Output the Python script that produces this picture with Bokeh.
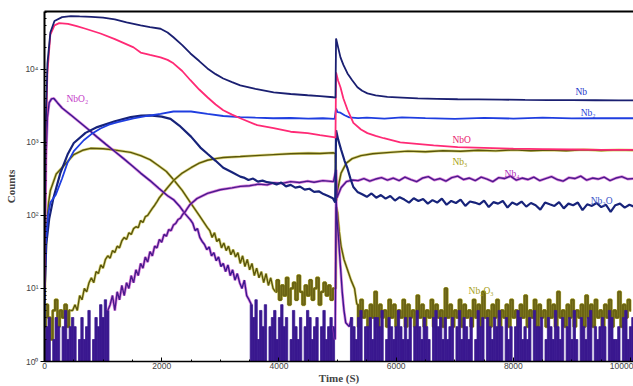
from bokeh.plotting import figure
from bokeh.models import Range1d, FixedTicker, LinearAxis, Label
from bokeh.embed import file_html
from bokeh.resources import INLINE

# ---------------- data ----------------
x_ticks = [0, 2000, 4000, 6000, 8000, 10000]
x_minor = [500, 1000, 1500, 2500, 3000, 3500, 4500, 5000, 5500,
           6500, 7000, 7500, 8500, 9000, 9500]
y_ticks = [1, 10, 100, 1000, 10000]
y_tick_labels = ["10⁰", "10¹", "10²", "10³", "10⁴"]

# Nb
t_nb = [0, 20, 50, 100, 170, 300, 450, 600, 800, 1000, 1200, 1400, 1640, 1800,
        1980, 2100, 2200, 2350, 2490, 2640, 2780, 2920, 3050, 3200, 3340, 3600,
        3910, 4200, 4490, 4700, 4930, 4965, 4975, 5010, 5050, 5100, 5170, 5250,
        5340, 5420, 5510, 5650, 5850, 6100, 6370, 6700, 7050, 7400, 7800, 8200,
        8600, 9000, 9400, 9800, 10050]
v_nb = [30, 1500, 12000, 32000, 46000, 52000, 53500, 53000, 52500, 51000, 48500,
        44000, 40000, 38000, 36000, 32000, 27500, 21500, 16500, 13000, 10300, 8600,
        7500, 6700, 6050, 5400, 4850, 4600, 4420, 4300, 4150, 4100, 26500, 20000,
        14600, 11500, 8800, 7100, 5700, 5100, 4700, 4400, 4200, 4100, 4000, 3950,
        3900, 3880, 3850, 3820, 3800, 3790, 3780, 3770, 3770]

# NbO
t_nbo = [0, 20, 50, 100, 170, 250, 400, 550, 700, 955, 1200, 1520, 1640, 1800,
         1980, 2100, 2200, 2350, 2490, 2640, 2780, 2920, 3050, 3200, 3340, 3630,
         3910, 4200, 4490, 4700, 4930, 4965, 4975, 5010, 5050, 5100, 5170, 5270,
         5400, 5510, 5650, 5790, 6070, 6400, 6640, 7050, 7500, 8000, 8500, 9000,
         9500, 10050]
v_nbo = [10, 1000, 9000, 30000, 40000, 43000, 42000, 39000, 36000, 31000, 26000,
         20000, 17000, 15800, 14600, 13500, 12100, 9500, 7100, 5300, 4150, 3300,
         2760, 2400, 2140, 1720, 1570, 1400, 1340, 1260, 1180, 1160, 9100, 7000,
         5700, 4000, 2800, 1850, 1500, 1340, 1230, 1140, 1000, 950, 910, 860, 840,
         820, 810, 800, 790, 790]

# Nb2
t_nb2 = [0, 20, 60, 100, 190, 300, 390, 500, 670, 800, 955, 1100, 1250, 1520,
         1750, 1980, 2200, 2500, 2780, 3050, 3340, 3600, 3900, 4200, 4500, 4750,
         4950, 4975, 5000, 5050, 5120, 5200, 5350, 5500, 5800, 6100, 6500, 7000,
         7500, 8000, 8500, 9000, 9500, 10050]
v_nb2 = [3, 40, 100, 150, 190, 320, 520, 760, 1070, 1300, 1550, 1750, 1900, 2140,
         2300, 2450, 2650, 2650, 2450, 2300, 2220, 2180, 2140, 2160, 2120, 2140,
         2100, 2900, 2600, 2550, 2350, 2200, 2150, 2180, 2120, 2200, 2150, 2100,
         2170, 2120, 2180, 2130, 2150, 2140]

# Nb2O
t_nb2o_head = [0, 30, 80, 150, 270, 400, 500, 700, 900, 1200, 1470, 1650, 1800,
               2000, 2150, 2300, 2500, 2660, 2780, 2920, 3050, 3200, 3340]
v_nb2o_head = [8, 40, 90, 170, 380, 700, 980, 1350, 1620, 1950, 2220, 2330, 2350,
               2250, 2100, 1700, 1200, 850, 700, 560, 450, 390, 340]
nb2o_pre = [330, 305, 320, 290, 300, 285, 280, 265, 282, 250, 262, 240, 248, 226,
            232, 210, 214, 196, 184, 172]                      # from 3400 s, every 80 s
t_nb2o_spike = [4960, 4975, 5010, 5060, 5120, 5170, 5220, 5270, 5340]
v_nb2o_spike = [150, 1470, 1100, 800, 560, 440, 320, 245, 210]
nb2o_tail = [195, 180, 200, 175, 190, 170, 185, 160, 178, 165,
             150, 172, 158, 168, 145, 162, 150, 170, 140, 158,
             148, 165, 135, 155, 150, 142, 160, 130, 152, 145,
             158, 128, 150, 140, 155, 132, 148, 138, 120, 150,
             142, 135, 152, 125, 145, 138, 150, 118, 142, 135,
             148, 130, 140, 112, 138, 145, 128, 140, 132]      # from 5420 s, every 80 s

# Nb3
nb3_early = [3, 6, 4, 2, 5, 7, 3, 5, 4, 6, 3, 5]                # from 0 s, every 40 s
nb3_rise = [5, 6, 5, 8, 7, 10, 9, 12, 14, 12, 17, 16, 21, 19, 25, 28, 26, 33, 31,
            38, 36, 45, 50, 47, 58, 55, 66, 70, 68, 85, 80, 96, 100, 112, 125, 138,
            155, 175]                                          # from 480 s, every 40 s
t_nb3_mid = [2080, 2200, 2350, 2500, 2640, 2780, 2920, 3050, 3340, 3600, 3910,
             4200, 4500, 4700, 4930, 4965, 4980, 5000, 5060, 5150, 5250, 5400,
             5600, 5900, 6200, 6500, 6800, 7100, 7400, 7700, 8000, 8300, 8600,
             8900, 9200, 9500, 9800, 10050]
v_nb3_mid = [230, 300, 380, 450, 520, 570, 600, 620, 640, 660, 680, 700, 710, 705,
             720, 700, 160, 220, 380, 520, 600, 660, 700, 730, 760, 745, 770, 755,
             780, 765, 790, 770, 785, 770, 795, 775, 790, 780]

# Nb2O3
t_nb2o3_head = [0, 20, 40, 70, 100, 200, 330, 500, 650, 785, 1000, 1180, 1470,
                1640, 1800, 1930, 2080, 2200, 2350, 2490, 2640, 2780]
v_nb2o3_head = [5, 30, 80, 150, 220, 370, 480, 680, 780, 830, 820, 790, 730, 660,
                580, 490, 400, 310, 220, 150, 100, 68]
nb2o3_decl = [62, 50, 58, 44, 48, 36, 42, 33, 38, 29, 34, 27, 31, 22, 28, 20, 25,
              18, 22, 15, 19, 14, 17, 12, 16, 11, 14, 10]       # from 2820 s, every 40 s
nb2o3_pre = [9, 13, 7, 11, 8, 14, 6, 10, 12, 7, 15, 9, 6, 11, 8, 13, 7, 10, 14, 6,
             9, 12, 8, 11, 7, 10]                              # from 3940 s, every 40 s
t_nb2o3_spike = [4970, 4980, 5000, 5030, 5060, 5110, 5170, 5230, 5290]
v_nb2o3_spike = [10, 130, 110, 60, 38, 25, 18, 13, 10]
nb2o3_tail = [6, 3, 7, 4, 5, 3, 6, 4, 9, 3, 6, 4, 5, 3, 7, 4, 6, 3, 5, 4,
              7, 3, 6, 4, 5, 3, 8, 4, 6, 3, 5, 4, 7, 3, 6, 4, 5, 3, 10, 4,
              6, 3, 5, 4, 7, 3, 6, 4, 5, 3, 7, 4, 6, 3, 9, 4, 5, 3, 6, 4,
              7, 3, 5, 4, 6, 3, 7, 4, 5, 3, 6, 4, 8, 3, 5, 4, 7, 3, 6, 4,
              5, 3, 7, 4, 6, 3, 9, 4, 5, 3, 6, 4, 7, 3, 5, 4, 6, 3, 8, 4,
              6, 3, 7, 4, 5, 3, 6, 4, 7, 3, 5, 4, 9, 3, 6, 4, 7, 5]  # from 5330 s, every 40 s

# NbO2
t_nbo2_head = [0, 25, 50, 80, 120, 160, 220, 300, 450, 600, 750, 900, 1050, 1200,
               1350, 1500, 1640, 1800, 1950, 2100, 2200, 2300, 2400, 2490]
v_nbo2_head = [10, 600, 2200, 3500, 3950, 4000, 3500, 2960, 2370, 1890, 1500, 1180,
               940, 750, 600, 475, 380, 300, 235, 186, 165, 135, 105, 87]
nbo2_decl = [78, 62, 66, 50, 44, 40, 34, 37, 28, 31, 24, 27, 20, 22, 17, 21, 15,
             18, 13, 16, 12, 10, 13, 8, 7]                      # from 2530 s, every 40 s
nbo2_pre = [6, 4, 7, 2, 5, 3, 6, 1, 3, 4, 5, 2, 4, 6, 3, 4, 1, 2, 5, 3,
            2, 4, 1, 3, 5, 4, 2, 3, 4, 1, 3, 5, 2, 3, 4, 3]    # from 3530 s, every 40 s
t_nbo2_spike = [4960, 4975, 4990, 5020, 5050, 5080, 5110, 5140, 5200]
v_nbo2_spike = [2, 180, 90, 45, 20, 9, 5, 3.4, 3]
nbo2_tail = [4, 3, 2, 4, 5, 1, 3, 3, 4, 2, 4, 4, 3, 5, 1, 2, 4, 3, 2, 3,
             5, 3, 2, 4, 2, 4, 1, 3, 5, 3, 2, 4, 3, 2, 1, 4, 5, 3, 4, 2,
             4, 2, 3, 4, 1, 3, 5, 2, 4, 3, 2, 4, 1, 2, 5, 3, 4, 1, 4, 3,
             2, 4, 3, 5, 3, 1, 4, 2, 3, 1, 3, 5, 4, 2, 3, 2, 4, 1, 5, 3,
             3, 4, 1, 2, 4, 3, 2, 5, 3, 2, 4, 1, 3, 4, 2, 5, 2, 1, 4, 3,
             2, 4, 5, 1, 3, 2, 3, 4, 3, 1, 5, 4, 2, 2, 3, 1, 4, 5, 2, 3, 4]  # from 5240 s, every 40 s

# Nb4
nb4_early = [2, 3, 4, 1, 2, 4, 3, 1, 3, 5, 2, 3, 4, 3, 1, 2, 4, 2, 3, 5, 1, 2, 4,
             3, 6, 4, 7, 5]                                    # from 0 s, every 40 s
nb4_rise = [6, 8, 5, 9, 7, 11, 8, 12, 10, 15, 12, 18, 15, 22, 19, 27, 23, 32, 28,
            38, 36, 47, 43, 55, 52, 64, 62, 74, 78, 88, 92, 104, 112, 126, 140]  # from 1120 s
t_nb4_mid = [2600, 2780, 3000, 3200, 3340, 3500, 3650, 3800, 3910, 4050, 4200,
             4350, 4490, 4600, 4750, 4930, 4975, 4990, 5060, 5150, 5250]
v_nb4_mid = [170, 200, 225, 238, 250, 255, 268, 262, 280, 275, 290, 282, 295, 285,
             300, 290, 420, 175, 240, 290, 305]
nb4_tail = [300, 320, 295, 315, 330, 305, 325, 300, 335, 310, 290, 325, 340, 305,
            320, 295, 330, 345, 310, 325, 300, 335, 315, 290, 330, 320, 345, 305,
            325, 310, 335, 300, 320, 340, 310, 295, 330, 320, 345, 305, 325, 315,
            335, 300, 325, 340, 315, 320]                      # from 5350 s, every 100 s

# series labels
label_names = ["Nb", "Nb₂", "NbO", "Nb₃", "Nb₄", "Nb₂O", "NbO₂", "Nb₂O₃"]
label_t = [9060, 9150, 6960, 6960, 7850, 9320, 375, 7235]
label_v = [4850, 2500, 1070, 540, 370, 158, 3900, 9.2]
label_colors = ["#2336c8", "#2a44d8", "#e8206e", "#a8a010", "#b02cb8", "#3a54c8",
                "#c43cc8", "#a8a018"]


def grid(start, step, vals):
    return [start + step * i for i in range(len(vals))]


# ---------------- figure ----------------
p = figure(width=633, height=386, x_range=Range1d(0, 10050), y_range=Range1d(1, 62000),
           y_axis_type="log", output_backend="svg", toolbar_location=None,
           min_border_left=44, min_border_right=0, min_border_top=11, min_border_bottom=24,
           background_fill_color="white", border_fill_color="white")
p.grid.visible = False
p.outline_line_color = None

OLIVE, OLIVE_HALO, OLIVE_NOISE = "#5a560c", "#c9c23a", "#6b6414"
PURPLE, PURPLE_HALO = "#3a188f", "#c83cc8"


def seg_line(T, V, c, halo):
    p.line(T, V, line_color=halo, line_width=2.8, line_alpha=0.65)
    p.line(T, V, line_color=c, line_width=1.4)


def olive_noise(T, V):
    p.step(T, V, mode="center", line_color=OLIVE_HALO, line_width=3.0, line_alpha=0.8)
    p.step(T, V, mode="center", line_color=OLIVE_NOISE, line_width=2.2)


def purple_noise(T, V, step):
    p.vbar(x=T, width=step, bottom=1, top=V, fill_color=PURPLE,
           line_color=PURPLE, line_width=0.8)


# Nb2O3 (olive)
t_pre3 = grid(3940, 40, nb2o3_pre)
t_tail3 = grid(5330, 40, nb2o3_tail)
seg_line(t_nb2o3_head + grid(2820, 40, nb2o3_decl) + t_pre3[:1],
         v_nb2o3_head + nb2o3_decl + nb2o3_pre[:1], OLIVE, OLIVE_HALO)
olive_noise(t_pre3, nb2o3_pre)
seg_line(t_pre3[-1:] + t_nb2o3_spike + t_tail3[:1],
         nb2o3_pre[-1:] + v_nb2o3_spike + nb2o3_tail[:1], OLIVE, OLIVE_HALO)
olive_noise(t_tail3, nb2o3_tail)

# Nb3 (olive)
t_e3 = grid(0, 40, nb3_early)
olive_noise(t_e3, nb3_early)
seg_line(t_e3[-1:] + grid(480, 40, nb3_rise) + t_nb3_mid,
         nb3_early[-1:] + nb3_rise + v_nb3_mid, OLIVE, OLIVE_HALO)

# NbO2 (purple)
t_pre2 = grid(3530, 40, nbo2_pre)
t_tail2 = grid(5240, 40, nbo2_tail)
seg_line(t_nbo2_head + grid(2530, 40, nbo2_decl) + t_pre2[:1],
         v_nbo2_head + nbo2_decl + nbo2_pre[:1], PURPLE, PURPLE_HALO)
purple_noise(t_pre2, nbo2_pre, 40)
seg_line(t_pre2[-1:] + t_nbo2_spike + t_tail2[:1],
         nbo2_pre[-1:] + v_nbo2_spike + nbo2_tail[:1], PURPLE, PURPLE_HALO)
purple_noise(t_tail2, nbo2_tail, 40)

# Nb4 (purple)
t_e4 = grid(0, 40, nb4_early)
purple_noise(t_e4, nb4_early, 40)
seg_line(t_e4[-1:] + grid(1120, 40, nb4_rise) + t_nb4_mid + grid(5350, 100, nb4_tail),
         nb4_early[-1:] + nb4_rise + v_nb4_mid + nb4_tail, "#4a1a8c", PURPLE_HALO)

# blue / pink series
p.line(t_nb2o_head + grid(3400, 80, nb2o_pre) + t_nb2o_spike + grid(5420, 80, nb2o_tail),
       v_nb2o_head + nb2o_pre + v_nb2o_spike + nb2o_tail,
       line_color="#17237a", line_width=2.2)
p.line(t_nb2, v_nb2, line_color="#1f3ee0", line_width=1.8)
p.line(t_nbo, v_nbo, line_color="#ff2a75", line_width=1.8)
p.line(t_nb, v_nb, line_color="#1a1f71", line_width=1.8)

for name, tx, vy, c in zip(label_names, label_t, label_v, label_colors):
    p.add_layout(Label(x=tx, y=vy, text=name, text_color=c, text_font="Liberation Serif",
                       text_font_size="9.5px", text_baseline="middle", text_align="left"))

# axes
xa = p.xaxis[0]
xa.ticker = FixedTicker(ticks=x_ticks, minor_ticks=x_minor)
xa.axis_line_width = 1.5
xa.major_tick_in = 4
xa.major_tick_out = 0
xa.minor_tick_in = 2
xa.minor_tick_out = 0
xa.major_label_text_font = "Liberation Sans"
xa.major_label_text_font_size = "8.5px"
xa.major_label_standoff = 1
xa.axis_label = "Time (S)"
xa.axis_label_text_font = "Liberation Serif"
xa.axis_label_text_font_style = "bold"
xa.axis_label_text_font_size = "11px"
xa.axis_label_standoff = 0

ya = p.yaxis[0]
y_minor = [m * 10 ** k for k in range(5) for m in range(2, 10) if m * 10 ** k < 62000]
ya.ticker = FixedTicker(ticks=y_ticks, minor_ticks=y_minor)
ya.major_label_overrides = {t: s for t, s in zip(y_ticks, y_tick_labels)}
ya.axis_line_width = 2
ya.major_tick_in = 2
ya.major_tick_out = 4
ya.minor_tick_in = 2
ya.minor_tick_out = 0
ya.major_label_text_font = "Liberation Sans"
ya.major_label_text_font_size = "8.5px"
ya.major_label_standoff = 2
ya.axis_label = "Counts"
ya.axis_label_text_font = "Liberation Serif"
ya.axis_label_text_font_style = "bold"
ya.axis_label_text_font_size = "11px"
ya.axis_label_standoff = 5

top = LinearAxis(ticker=FixedTicker(ticks=[]), major_tick_in=0, major_tick_out=0,
                 minor_tick_in=0, minor_tick_out=0, major_label_text_font_size="0px",
                 major_label_standoff=0, axis_line_width=2)
p.add_layout(top, "above")

open("out.html", "w").write(file_html(p, INLINE))
